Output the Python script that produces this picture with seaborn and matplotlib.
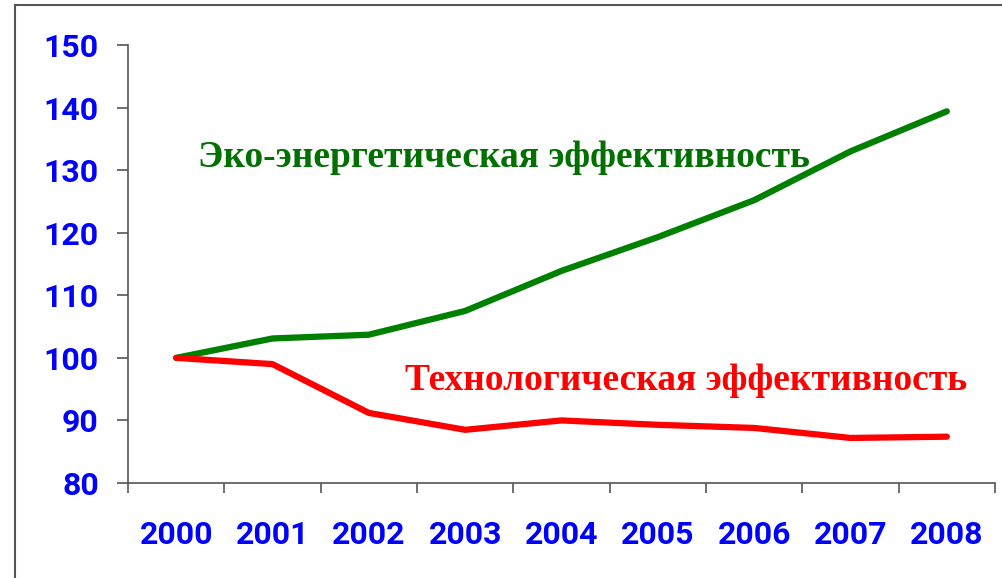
import matplotlib
matplotlib.use("Agg")
import matplotlib.pyplot as plt
import seaborn as sns
import pandas as pd
from matplotlib.patches import Rectangle
from matplotlib.ticker import FixedLocator, NullFormatter

years = ["2000", "2001", "2002", "2003", "2004", "2005", "2006", "2007", "2008"]
eco_energy = [100.0, 103.1, 103.7, 107.5, 113.9, 119.3, 125.2, 133.0, 139.4]
tech_eff = [100.0, 99.0, 91.2, 88.5, 90.0, 89.3, 88.8, 87.2, 87.4]
label_eco = "Эко-энергетическая эффективность"
label_tech = "Технологическая эффективность"
yticks = [80, 90, 100, 110, 120, 130, 140, 150]

sns.set_theme(style="white")
plt.rcParams['font.family'] = ['Roboto', 'DejaVu Sans']

fig = plt.figure(figsize=(10.02, 5.78), dpi=100)
ax = fig.add_axes([128/1002, 1 - 483/578, (995-128)/1002, (483-45)/578])

idx = list(range(len(years)))
df = pd.DataFrame({"idx": idx, "eco": eco_energy, "tech": tech_eff})
sns.lineplot(data=df, x="idx", y="eco", ax=ax, color="#008000", linewidth=4.5,
             solid_capstyle="round", solid_joinstyle="round")
sns.lineplot(data=df, x="idx", y="tech", ax=ax, color="#FF0000", linewidth=4.5,
             solid_capstyle="round", solid_joinstyle="round")

ax.set_xlim(-0.5, len(years) - 0.5)
ax.set_ylim(80, 150)
ax.set_xlabel("")
ax.set_ylabel("")

# x: boundary ticks (major, no labels), labels at centers (minor)
ax.xaxis.set_major_locator(FixedLocator([i - 0.5 for i in range(len(years) + 1)]))
ax.xaxis.set_major_formatter(NullFormatter())
ax.xaxis.set_minor_locator(FixedLocator(idx))
ax.set_xticklabels(years, minor=True)
ax.tick_params(axis="x", which="major", direction="out", length=7.5, width=1.2,
               color="#555555", bottom=True)
ax.tick_params(axis="x", which="minor", length=0, pad=27, labelsize=23,
               labelcolor="#0000FF")
for t in ax.get_xticklabels(minor=True):
    t.set_fontweight("bold")

ax.set_yticks(yticks)
ax.set_yticklabels([str(v) for v in yticks])
ax.tick_params(axis="y", direction="out", length=8, width=1.2, color="#555555",
               left=True, pad=13, labelsize=23, labelcolor="#0000FF")
for t in ax.get_yticklabels():
    t.set_fontweight("bold")

for s in ["top", "right"]:
    ax.spines[s].set_visible(False)
for s in ["left", "bottom"]:
    ax.spines[s].set_color("#555555")
    ax.spines[s].set_linewidth(1.2)

ax.text(504/1002, 1 - 157/578, label_eco, transform=fig.transFigure,
        ha="center", va="center", fontsize=27, fontweight="bold",
        family=["Liberation Serif", "DejaVu Serif"], color="#007000")
ax.text(686/1002, 1 - 381/578, label_tech, transform=fig.transFigure,
        ha="center", va="center", fontsize=27, fontweight="bold",
        family=["Liberation Serif", "DejaVu Serif"], color="#FF0000")

frame = Rectangle((15/1002, -0.1), 1.2, 1 - 5/578 + 0.1, transform=fig.transFigure,
                  fill=False, edgecolor="#555555", linewidth=1.5, clip_on=False)
fig.patches.append(frame)

fig.savefig("out.png", dpi=100, facecolor="white")
